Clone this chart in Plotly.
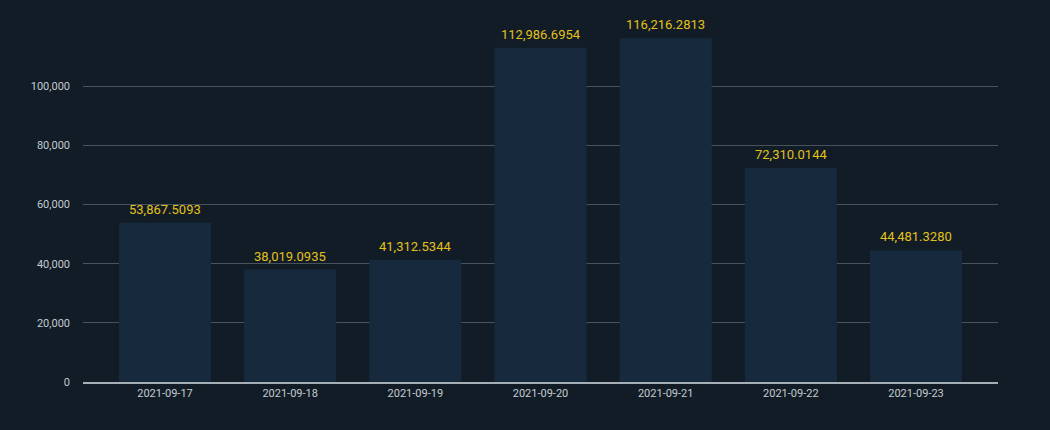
import plotly.graph_objects as go

dates = ["2021-09-17", "2021-09-18", "2021-09-19", "2021-09-20", "2021-09-21", "2021-09-22", "2021-09-23"]
values = [53867.5093, 38019.0935, 41312.5344, 112986.6954, 116216.2813, 72310.0144, 44481.3280]
labels = [f"{v:,.4f}" for v in values]

fig = go.Figure(go.Bar(
    x=dates, y=values,
    marker=dict(color="#172a3d", line=dict(width=0)),
    width=0.735, cliponaxis=False,
))
for d, v, t in zip(dates, values, labels):
    fig.add_annotation(x=d, y=v, text=t, showarrow=False, yanchor="bottom", yshift=4,
                       font=dict(color="#e3c11b", size=13, family="Roboto"))
fig.update_layout(
    width=1050, height=430,
    margin=dict(l=83, r=52, t=27, b=48),
    paper_bgcolor="#111c26", plot_bgcolor="#111c26",
    font=dict(family="Roboto", color="#c5cbd1", size=11),
    showlegend=False,
    xaxis=dict(type="category", range=[-0.655, 6.655], showgrid=False,
               showline=True, linecolor="#a7afb6", linewidth=2,
               ticks="", tickfont=dict(size=11, color="#c5cbd1")),
    yaxis=dict(range=[0, 120000], tickvals=[0, 20000, 40000, 60000, 80000, 100000],
               tickformat=",d", gridcolor="#48535d", gridwidth=1, zeroline=False,
               ticks="", ticklabelstandoff=12, tickfont=dict(size=11, color="#c5cbd1")),
)
fig.write_html("out.html")
